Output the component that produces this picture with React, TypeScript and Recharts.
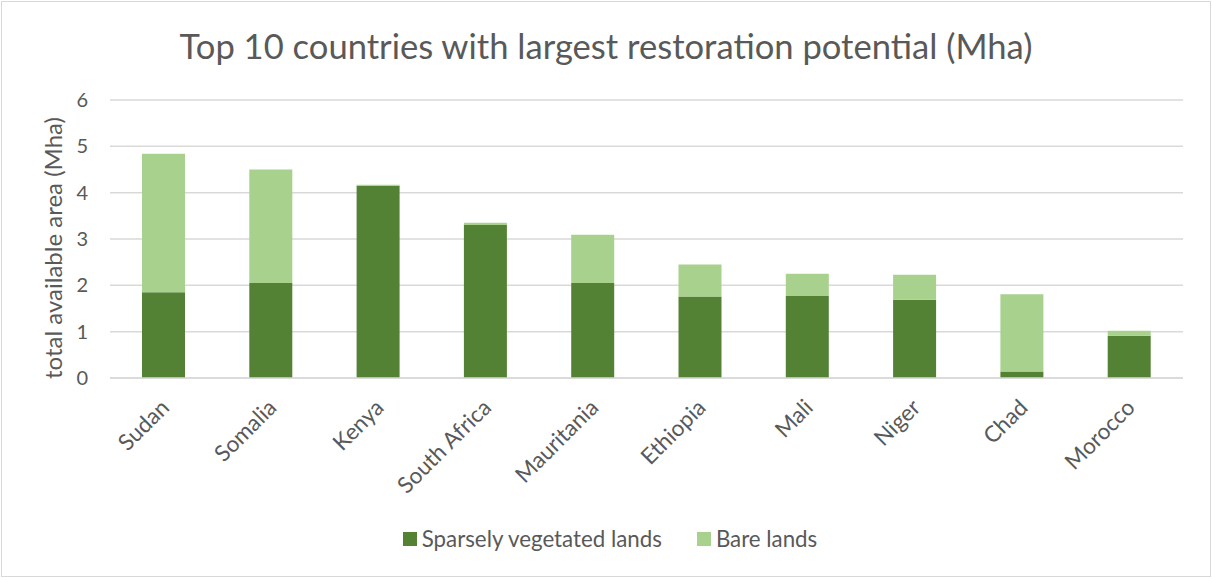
import React from "react";
import { BarChart, Bar, XAxis, YAxis, CartesianGrid } from "recharts";

const countries = ["Sudan", "Somalia", "Kenya", "South Africa", "Mauritania", "Ethiopia", "Mali", "Niger", "Chad", "Morocco"];
const sparselyVegetated = [1.85, 2.05, 4.15, 3.30, 2.05, 1.76, 1.77, 1.69, 0.14, 0.91];
const bareLands = [2.99, 2.45, 0.02, 0.05, 1.04, 0.69, 0.48, 0.54, 1.67, 0.11];
const yTicks = [0, 1, 2, 3, 4, 5, 6];
const seriesNames = ["Sparsely vegetated lands", "Bare lands"];
const seriesColors = ["#548235", "#A9D18E"];
const title = "Top 10 countries with largest restoration potential (Mha)";
const yLabel = "total available area (Mha)";

const data = countries.map((c, i) => ({ name: c, sparse: sparselyVegetated[i], bare: bareLands[i] }));

const FONT = "Lato, 'Open Sans', sans-serif";
const TEXT = "#595959";

const XTick = (props: any) => {
  const { x, y, payload } = props;
  const px = x + 7;
  const py = y + 31;
  return (
    <text x={px} y={py} transform={`rotate(-45 ${px} ${py})`} textAnchor="end" fill={TEXT} fontSize={22.5} fontFamily={FONT}>
      {payload.value}
    </text>
  );
};

const YLabel = (props: any) => {
  const vb = props.viewBox || {};
  const cx = 52;
  const cy = vb.y + vb.height / 2 + 9;
  return (
    <text x={cx} y={cy} transform={`rotate(-90 ${cx} ${cy})`} textAnchor="middle" dominantBaseline="central" fill={TEXT} fontSize={24} fontFamily={FONT}>
      {yLabel}
    </text>
  );
};

export default function App() {
  return (
    <div style={{ position: "absolute", left: 0, top: 0, width: 1212, height: 578, background: "#fff", fontFamily: FONT }}>
      <div style={{ position: "absolute", left: 1, top: 1, width: 1210, height: 576, border: "1px solid #d9d9d9", boxSizing: "border-box" }} />
      <div style={{ position: "absolute", left: 0, top: 25, width: 1212, textAlign: "center", fontSize: 34.6, color: TEXT, lineHeight: "42px" }}>
        {title}
      </div>
      <div style={{ position: "absolute", left: 0, top: 0 }}>
        <BarChart width={1212} height={578} data={data} margin={{ top: 100, right: 29, bottom: 0, left: 0 }} barCategoryGap="20%">
          <CartesianGrid vertical={false} stroke="#d9d9d9" strokeWidth={1.5} />
          <XAxis dataKey="name" height={200} interval={0} tickLine={false} tickSize={0} tickMargin={0} axisLine={{ stroke: "#d9d9d9", strokeWidth: 1.5 }} tick={<XTick />} />
          <YAxis width={110} domain={[0, 6]} ticks={yTicks} axisLine={false} tickLine={false} tickSize={0} tickMargin={22} tick={{ fill: TEXT, fontSize: 20, fontFamily: FONT }} label={<YLabel />} />
          <Bar dataKey="sparse" stackId="a" fill={seriesColors[0]} barSize={43} isAnimationActive={false} name={seriesNames[0]} />
          <Bar dataKey="bare" stackId="a" fill={seriesColors[1]} barSize={43} isAnimationActive={false} name={seriesNames[1]} />
        </BarChart>
      </div>
      <div style={{ position: "absolute", left: 4, top: 525, width: 1212, display: "flex", justifyContent: "center", alignItems: "center", fontSize: 22.3, color: TEXT }}>
        {seriesNames.map((n, i) => (
          <div key={n} style={{ display: "flex", alignItems: "center", marginLeft: i === 0 ? 0 : 35 }}>
            <span style={{ display: "inline-block", width: 14, height: 14, background: seriesColors[i], marginRight: 5 }} />
            <span>{n}</span>
          </div>
        ))}
      </div>
    </div>
  );
}
